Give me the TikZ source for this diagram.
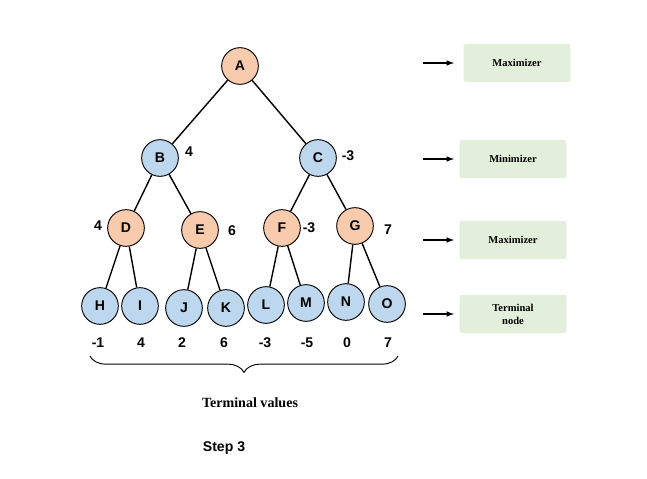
\documentclass[tikz,border=0pt]{standalone}
\usepackage{fontspec}
\setmainfont{Liberation Serif}
\setsansfont{Liberation Sans}
\usetikzlibrary{decorations.pathreplacing,positioning}
\definecolor{maxfill}{HTML}{F8CBAD}
\definecolor{minfill}{HTML}{BDD7EE}
\definecolor{boxfill}{HTML}{E2EFDA}
\tikzset{
  maxnode/.style={circle, draw, line width=0.8, fill=maxfill, minimum size=1.1cm, inner sep=0pt, font=\sffamily\bfseries\large},
  minnode/.style={circle, draw, line width=0.8, fill=minfill, minimum size=1.1cm, inner sep=0pt, font=\sffamily\bfseries\large},
  val/.style={font=\sffamily\bfseries\large},
  level/.style={rounded corners=2pt, fill=boxfill, minimum width=3.2cm, minimum height=1.15cm, align=center, font=\bfseries\small},
  tree/.style={line width=1.2}
}
\begin{document}
\begin{tikzpicture}[x=0.03cm, y=-0.03cm]
  \useasboundingbox (0,0) rectangle (647,479);
  % tree
  \node[maxnode] (A) at (240,66) {A};
  \node[minnode] (B) at (160,158) {B};
  \node[minnode] (C) at (318,158) {C};
  \node[maxnode] (D) at (126,228) {D};
  \node[maxnode] (E) at (200,230) {E};
  \node[maxnode] (F) at (282,228) {F};
  \node[maxnode] (G) at (355,226) {G};
  \node[minnode] (H) at (100,306) {H};
  \node[minnode] (I) at (140,306) {I};
  \node[minnode] (J) at (184,308) {J};
  \node[minnode] (K) at (226,308) {K};
  \node[minnode] (L) at (266,305) {L};
  \node[minnode] (M) at (306,303) {M};
  \node[minnode] (N) at (346,302) {N};
  \node[minnode] (O) at (387,304) {O};
  \foreach \p/\c in {A/B,A/C,B/D,B/E,C/F,C/G,D/H,D/I,E/J,E/K,F/L,F/M,G/N,G/O}
    \draw[tree] (\p) -- (\c);
  % backed-up values
  \node[val] (vB) at (189,152) {4};
  \node[val] (vC) at (348,156) {-3};
  \node[val] (vD) at (98,226) {4};
  \node[val] (vE) at (232,231) {6};
  \node[val] (vF) at (309,228) {-3};
  \node[val] (vG) at (388,230) {7};
  \foreach \x/\v/\n in {98/-1/1,141/4/2,182/2/3,224/6/4,265/-3/5,307/-5/6,347/0/7,388/7/8}
    \node[val] (t\n) at (\x,343) {\v};
  % brace
  \coordinate (bl) at (90,356);
  \coordinate (br) at (398,356);
  \draw[line width=0.8, decorate, decoration={brace, mirror, amplitude=14pt}] (bl) -- (br);
  \node[font=\bfseries\large] (tv) at (250,403) {Terminal values};
  \node[font=\sffamily\bfseries\large] (step) at (224,448) {Step 3};
  % levels
  \foreach \y/\t/\n/\x in {63/Maximizer/1/517,159/Minimizer/2/513,240/Maximizer/3/513,314/Terminal\\node/4/513} {
    \node[level] (lv\n) at (\x,\y) {\t};
    \coordinate (s\n) at (423,\y);
    \coordinate (e\n) at (454,\y);
    \draw[-latex, line width=1.2] (s\n) -- (e\n);
  }
\end{tikzpicture}
\end{document}
